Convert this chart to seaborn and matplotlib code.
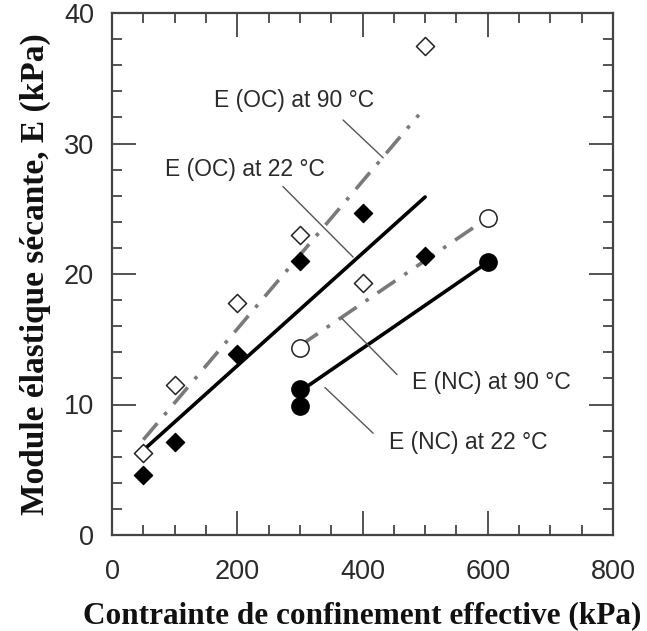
import matplotlib
matplotlib.use("Agg")
import matplotlib.pyplot as plt
from matplotlib.ticker import MultipleLocator
import seaborn as sns
import pandas as pd

# ---- data ----
oc90_x = [50, 100, 200, 300, 400, 500]
oc90_y = [6.3, 11.5, 17.8, 23.0, 19.3, 37.5]
oc22_x = [50, 100, 200, 300, 400, 500]
oc22_y = [4.6, 7.1, 13.9, 21.0, 24.7, 21.4]
nc90_x = [300, 600]
nc90_y = [14.3, 24.3]
nc22_x = [300, 300, 600]
nc22_y = [11.2, 9.9, 20.9]

# fitted trend lines (end points)
oc90_fit_x = [50, 490]
oc90_fit_y = [7.3, 32.2]
oc22_fit_x = [50, 500]
oc22_fit_y = [6.5, 25.9]
nc90_fit_x = [300, 600]
nc90_fit_y = [14.5, 24.3]
nc22_fit_x = [300, 600]
nc22_fit_y = [11.0, 20.9]

labels = ["E (OC) at 90 °C", "E (OC) at 22 °C", "E (NC) at 90 °C", "E (NC) at 22 °C"]
label_pos = [(291, 33.3), (212, 28.0), (606, 11.65), (569, 7.1)]
leader_start = [(369, 31.8), (273, 26.7), (367, 16.6), (340, 11.3)]
leader_end = [(433, 28.9), (385, 21.3), (455, 12.3), (417, 7.8)]

x_ticks = [0, 200, 400, 600, 800]
y_ticks = [0, 10, 20, 30, 40]
xlabel = "Contrainte de confinement effective (kPa)"
ylabel = "Module élastique sécante, E (kPa)"

# ---- style ----
sns.set_theme(style="ticks")
plt.rcParams["font.family"] = ["Liberation Sans", "DejaVu Sans"]

fig = plt.figure(figsize=(6.47, 6.31), dpi=100)
ax = fig.add_axes([112/647, 96/631, 501/647, 522/631])

gray_line = "#7a7a7a"
dashdot = (0, (6, 3, 1, 3))

sns.lineplot(x=oc90_fit_x, y=oc90_fit_y, ax=ax, color=gray_line, lw=2.6,
             linestyle=dashdot, zorder=2)
sns.lineplot(x=oc22_fit_x, y=oc22_fit_y, ax=ax, color="black", lw=2.6, zorder=2)
sns.lineplot(x=nc90_fit_x, y=nc90_fit_y, ax=ax, color=gray_line, lw=2.6,
             linestyle=dashdot, zorder=2)
sns.lineplot(x=nc22_fit_x, y=nc22_fit_y, ax=ax, color="black", lw=2.6, zorder=2)

sns.scatterplot(x=oc90_x, y=oc90_y, ax=ax, marker="D", s=85, facecolor="white",
                edgecolor="#222222", linewidth=1.1, zorder=4)
sns.scatterplot(x=oc22_x, y=oc22_y, ax=ax, marker="D", s=85, facecolor="black",
                edgecolor="black", linewidth=1.0, zorder=4)
sns.scatterplot(x=nc90_x, y=nc90_y, ax=ax, marker="o", s=155, facecolor="white",
                edgecolor="#222222", linewidth=1.1, zorder=4)
sns.scatterplot(x=nc22_x, y=nc22_y, ax=ax, marker="o", s=155, facecolor="black",
                edgecolor="black", linewidth=1.0, zorder=4)

for lab, (tx, ty), s0, s1 in zip(labels, label_pos, leader_start, leader_end):
    ax.text(tx, ty, lab, ha="center", va="center", fontsize=16.5, color="#2a2a2a",
            zorder=5)
    ax.annotate("", xy=s1, xytext=s0,
                arrowprops=dict(arrowstyle="-", color="#555555", lw=1.0,
                                shrinkA=0, shrinkB=0), zorder=3)

ax.set_xlim(0, 800)
ax.set_ylim(0, 40)
ax.set_xticks(x_ticks)
ax.set_yticks(y_ticks)
ax.xaxis.set_minor_locator(MultipleLocator(50))
ax.yaxis.set_minor_locator(MultipleLocator(2))
ax.tick_params(which="both", direction="in", top=True, right=True,
               color="#444444", labelcolor="#2a2a2a", labelsize=19.5)
ax.tick_params(which="major", length=17, width=1.3)
ax.tick_params(which="minor", length=7, width=1.3)
ax.tick_params(axis="x", which="major", pad=17)
ax.tick_params(axis="y", which="major", pad=13)
for sp in ax.spines.values():
    sp.set_color("#444444")
    sp.set_linewidth(1.6)

ax.set_xlabel(xlabel, family="Liberation Serif", fontweight="bold", fontsize=22.5,
              color="#111111", labelpad=12)
ax.set_ylabel(ylabel, family="Liberation Serif", fontweight="bold", fontsize=24,
              color="#111111", labelpad=9)

fig.savefig("out.png", dpi=100, facecolor="white")
